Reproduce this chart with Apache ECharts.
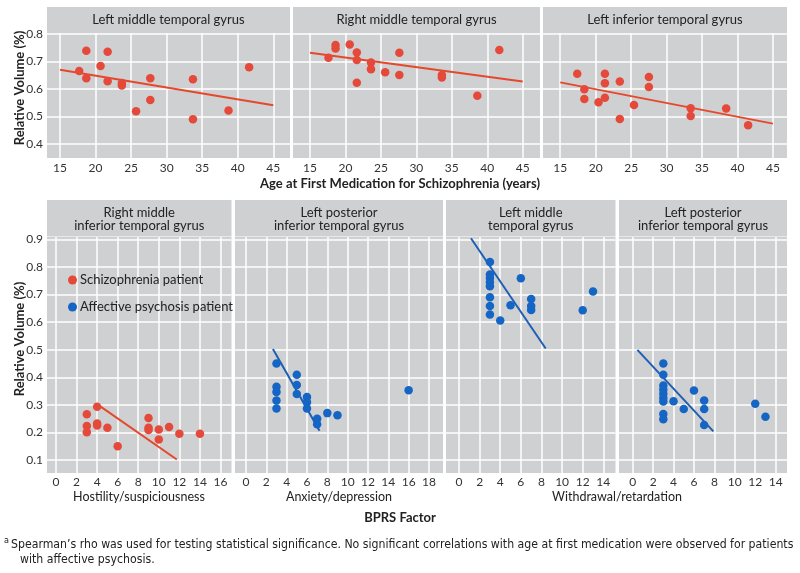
<!DOCTYPE html>
<html><head><meta charset="utf-8">
<script src="https://cdn.jsdelivr.net/npm/echarts@6/dist/echarts.min.js"></script>
<style>html,body{margin:0;padding:0;background:#fff}#c{width:800px;height:573px}</style>
</head><body><div id="c"></div>
<script>
// ---------- DATA ----------
const ageTicks = [15, 20, 25, 30, 35, 40, 45];
const topVolTicks = [0.4, 0.5, 0.6, 0.7, 0.8];
const botVolTicks = [0.1, 0.2, 0.3, 0.4, 0.5, 0.6, 0.7, 0.8, 0.9];
const hostTicks = [0, 2, 4, 6, 8, 10, 12, 14, 16];
const anxTicks = [0, 2, 4, 6, 8, 10, 12, 14, 16, 18];
const withTicks = [0, 2, 4, 6, 8, 10, 12, 14];

const topTitles = ['Left middle temporal gyrus', 'Right middle temporal gyrus', 'Left inferior temporal gyrus'];
const botTitles = ['Right middle\ninferior temporal gyrus', 'Left posterior\ninferior temporal gyrus', 'Left middle\ntemporal gyrus', 'Left posterior\ninferior temporal gyrus'];
const factorNames = ['Hostility/suspiciousness', 'Anxiety/depression', 'Withdrawal/retardation'];
const legendNames = ['Schizophrenia patient', 'Affective psychosis patient'];

// Age at first medication vs relative volume (schizophrenia)
const lmtgAge = [[17.7,0.665],[18.7,0.739],[18.7,0.639],[20.7,0.684],[21.7,0.735],[21.7,0.628],[23.7,0.622],[23.7,0.613],[25.7,0.519],[27.7,0.639],[27.7,0.560],[33.7,0.635],[33.7,0.490],[38.7,0.522],[41.6,0.679]];
const lmtgAgeFit = [[15,0.670],[45,0.541]];
const rmtgAge = [[17.6,0.714],[18.6,0.760],[18.6,0.747],[20.6,0.762],[21.6,0.733],[21.6,0.705],[21.6,0.623],[23.6,0.696],[23.6,0.672],[25.6,0.661],[27.6,0.732],[27.6,0.651],[33.6,0.651],[33.6,0.642],[38.6,0.575],[41.7,0.742]];
const rmtgAgeFit = [[15,0.732],[45,0.627]];
const litgAge = [[17.4,0.655],[18.4,0.599],[18.4,0.564],[20.4,0.552],[21.3,0.655],[21.3,0.621],[21.3,0.568],[23.4,0.627],[23.4,0.491],[25.4,0.542],[27.5,0.644],[27.5,0.607],[33.4,0.530],[33.4,0.502],[38.4,0.529],[41.5,0.468]];
const litgAgeFit = [[15,0.624],[45,0.474]];

// BPRS factors vs relative volume
const hostility = [[3,0.266],[3,0.223],[3,0.201],[4,0.293],[4,0.232],[4,0.225],[5,0.217],[6,0.150],[9,0.252],[9,0.217],[9,0.209],[10,0.211],[10,0.174],[11,0.220],[12,0.195],[14,0.195]];
const hostilityFit = [[4.1,0.300],[11.75,0.102]];
const anxiety = [[3,0.450],[3,0.366],[3,0.347],[3,0.316],[3,0.287],[5,0.409],[5,0.372],[5,0.339],[6,0.328],[6,0.309],[6,0.287],[7,0.250],[7,0.230],[8,0.270],[9,0.262],[16,0.353]];
const anxietyFit = [[2.65,0.502],[7.23,0.206]];
const withdrawalMtg = [[3,0.818],[3,0.772],[3,0.760],[3,0.745],[3,0.730],[3,0.690],[3,0.658],[3,0.627],[4,0.606],[5,0.661],[6,0.759],[7,0.684],[7,0.658],[7,0.644],[12,0.643],[13,0.711]];
const withdrawalMtgFit = [[1.16,0.904],[8.41,0.504]];
const withdrawalPitg = [[3,0.450],[3,0.409],[3,0.370],[3,0.355],[3,0.340],[3,0.325],[3,0.312],[3,0.267],[3,0.248],[4,0.313],[5,0.285],[6,0.352],[7,0.316],[7,0.285],[7,0.227],[12,0.304],[13,0.257]];
const withdrawalPitgFit = [[0.46,0.499],[7.9,0.204]];

// ---------- STYLE / LAYOUT ----------
const RED = '#e5493a', RED_LINE = '#e6482c', BLUE = '#1565c4', BLUE_LINE = '#1e5fb4';
const GRAY = '#cfd0d2';
const FONT = 'Lato';
const grids = [
  {left:47, top:33, width:243, height:125},
  {left:293, top:33, width:247, height:125},
  {left:543, top:33, width:244, height:125},
  {left:47, top:237, width:184.5, height:236},
  {left:235, top:237, width:208, height:236},
  {left:446, top:237, width:169.5, height:236},
  {left:619, top:237, width:168, height:236}
];
const xRanges = [[13.17,47.35],[12.6,47.44],[12.57,46.98],[-0.875,17.07],[-1.08,19.38],[-1.26,15.18],[-1.34,15.11]];
const xTicks = [ageTicks, ageTicks, ageTicks, hostTicks, anxTicks, withTicks, withTicks];
const panels = [
  [lmtgAge, lmtgAgeFit, 0], [rmtgAge, rmtgAgeFit, 0], [litgAge, litgAgeFit, 0],
  [hostility, hostilityFit, 0], [anxiety, anxietyFit, 1], [withdrawalMtg, withdrawalMtgFit, 1], [withdrawalPitg, withdrawalPitgFit, 1]
];

const xAxes = grids.map((g, i) => ({
  type:'value', gridIndex:i, min:xRanges[i][0], max:xRanges[i][1],
  axisLine:{show:false}, axisTick:{show:false, customValues:xTicks[i]},
  axisLabel:{customValues:xTicks[i], color:'#333', fontSize:12, fontFamily:FONT, margin:i < 3 ? 4 : 3},
  splitLine:{show:true, lineStyle:{color:'#fff', width:1.5}}
}));
const yAxes = grids.map((g, i) => {
  const top = i < 3;
  const ticks = top ? topVolTicks : botVolTicks;
  return {
    type:'value', gridIndex:i, min: top ? 0.349 : 0.053, max: top ? 0.8036 : 0.9083,
    axisLine:{show:false}, axisTick:{show:false, customValues:ticks},
    axisLabel:{show: i === 0 || i === 3, customValues:ticks, color:'#333', fontSize:12, fontFamily:FONT, margin:4,
      formatter: v => v.toFixed(1)},
    splitLine:{show:true, lineStyle:{color:'#fff', width:1.5}}
  };
});

const series = [];
panels.forEach((p, i) => {
  const isBlue = p[2] === 1;
  series.push({
    type:'line', xAxisIndex:i, yAxisIndex:i, data:p[1], showSymbol:false, symbol:'none',
    lineStyle:{color: isBlue ? BLUE_LINE : RED_LINE, width:2}, silent:true, z:2, name:'fit' + i
  });
  series.push({
    type:'scatter', xAxisIndex:i, yAxisIndex:i, data:p[0], name: legendNames[p[2]],
    symbol:'circle', symbolSize:8.5, itemStyle:{color: isBlue ? BLUE : RED, opacity:1}, z:3
  });
});

const graphic = [];
grids.slice(0,3).forEach((g, i) => {
  graphic.push({type:'rect', shape:{x:g.left, y:7, width:g.width, height:26}, style:{fill:GRAY}, z:-1});
  graphic.push({type:'text', x:g.left + g.width/2, y:20, style:{text:topTitles[i], fontSize:13, fontFamily:FONT, fill:'#222', align:'center', verticalAlign:'middle'}});
});
grids.slice(3).forEach((g, i) => {
  graphic.push({type:'rect', shape:{x:g.left, y:200, width:g.width, height:36.5}, style:{fill:GRAY}, z:-1});
  graphic.push({type:'text', x:g.left + g.width/2, y:219, style:{text:botTitles[i], fontSize:13, lineHeight:13, fontFamily:FONT, fill:'#222', align:'center', verticalAlign:'middle'}});
});
// axis titles
graphic.push({type:'text', x:20, y:88, rotation:Math.PI/2, style:{text:'Relative Volume (%)', fontSize:13, fontWeight:'bold', fontFamily:FONT, fill:'#222', align:'center', verticalAlign:'middle'}});
graphic.push({type:'text', x:20, y:339, rotation:Math.PI/2, style:{text:'Relative Volume (%)', fontSize:13, fontWeight:'bold', fontFamily:FONT, fill:'#222', align:'center', verticalAlign:'middle'}});
graphic.push({type:'text', x:400, y:184, style:{text:'Age at First Medication for Schizophrenia (years)', fontSize:13, fontWeight:'bold', fontFamily:FONT, fill:'#222', align:'center', verticalAlign:'middle'}});
graphic.push({type:'text', x:400, y:518, style:{text:'BPRS Factor', fontSize:13, fontWeight:'bold', fontFamily:FONT, fill:'#222', align:'center', verticalAlign:'middle'}});
[[139, factorNames[0]], [339, factorNames[1]], [617, factorNames[2]]].forEach(([cx, t]) => {
  graphic.push({type:'text', x:cx, y:497, style:{text:t, fontSize:12.5, fontFamily:FONT, fill:'#222', align:'center', verticalAlign:'middle'}});
});
// footnote
const NARROW = '"Liberation Sans Narrow", "DejaVu Sans Condensed", sans-serif';
graphic.push({type:'text', x:4, y:541, style:{text:'a', fontSize:9, fontFamily:NARROW, fill:'#222', align:'left', verticalAlign:'middle'}});
graphic.push({type:'text', x:11, y:545, style:{text:'Spearman\u2019s rho was used for testing statistical significance. No significant correlations with age at first medication were observed for patients', fontSize:12.2, fontFamily:NARROW, fill:'#222', align:'left', verticalAlign:'middle'}});
graphic.push({type:'text', x:20, y:560, style:{text:'with affective psychosis.', fontSize:12.2, fontFamily:NARROW, fill:'#222', align:'left', verticalAlign:'middle'}});

const chart = echarts.init(document.getElementById('c'), null, {renderer:'canvas'});
chart.setOption({
  animation:false,
  backgroundColor:'#fff',
  textStyle:{fontFamily:FONT},
  grid: grids.map(g => Object.assign({show:true, backgroundColor:GRAY, borderWidth:0, containLabel:false}, g)),
  xAxis:xAxes, yAxis:yAxes, series, graphic,
  legend:{
    data:[{name:legendNames[0], itemStyle:{color:RED}}, {name:legendNames[1], itemStyle:{color:BLUE}}],
    orient:'vertical', left:63, top:267, icon:'circle', itemWidth:9, itemHeight:9, itemGap:11,
    selectedMode:false,
    textStyle:{fontSize:13, fontFamily:FONT, color:'#222', padding:[0,0,0,-2], lineHeight:16}
  }
});
</script></body></html>
